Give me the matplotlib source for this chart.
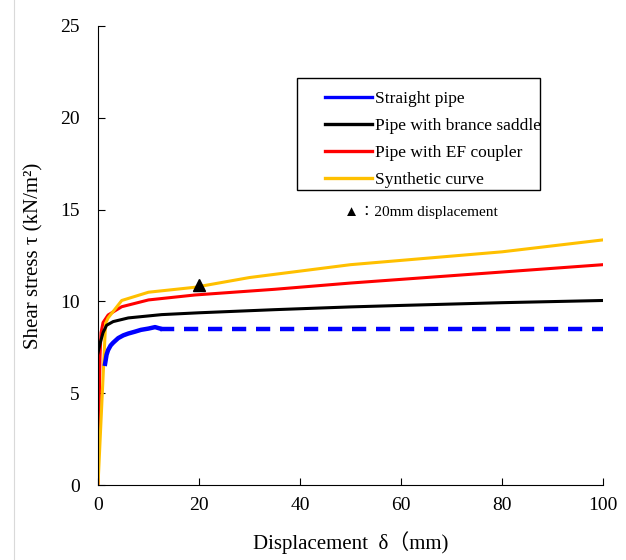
import matplotlib

matplotlib.use("Agg")
import matplotlib.pyplot as plt
from matplotlib.lines import Line2D
from matplotlib.patches import Rectangle

plt.rcParams["font.family"] = ["Liberation Serif", "DejaVu Serif", "Noto Sans CJK JP"]
plt.rcParams["font.size"] = 14

# Straight pipe: measured part, then constant (dashed) part
straight_x = [1.4, 1.7, 2.0, 2.5, 3.0, 4.0, 5.0, 6.0, 7.3, 8.5, 10.0, 11.3, 12.3]
straight_y = [6.6, 7.1, 7.35, 7.6, 7.75, 8.0, 8.15, 8.25, 8.35, 8.45, 8.52, 8.6, 8.52]
straight_dash_x = [12.3, 100.0]
straight_dash_y = [8.5, 8.5]

saddle_x = [0.0, 0.5, 1.0, 1.7, 3.0, 6.0, 12.6, 20.0, 35.0, 50.0, 60.0, 80.0, 100.0]
saddle_y = [7.2, 7.8, 8.3, 8.7, 8.9, 9.1, 9.28, 9.38, 9.55, 9.7, 9.78, 9.93, 10.05]

coupler_x = [0.0, 0.2, 0.4, 0.6, 1.0, 2.0, 4.7, 10.0, 19.2, 35.0, 50.0, 60.0, 80.0, 100.0]
coupler_y = [0.0, 4.0, 7.0, 8.3, 8.85, 9.26, 9.71, 10.08, 10.35, 10.66, 11.0, 11.2, 11.6, 12.0]

synth_x = [0.0, 1.5, 2.0, 3.0, 4.7, 10.0, 19.2, 30.0, 50.0, 80.0, 100.0]
synth_y = [0.0, 8.8, 9.1, 9.45, 10.05, 10.5, 10.77, 11.3, 12.0, 12.7, 13.35]

marker_x = [20.0]
marker_y = [10.9]

labels = ["Straight pipe", "Pipe with brance saddle", "Pipe with EF coupler", "Synthetic curve"]
colors = ["#0000ff", "#000000", "#ff0000", "#ffc000"]

fig = plt.figure(figsize=(6.26, 5.6), dpi=100)
ax = fig.add_axes([98 / 626, 75 / 560, 505 / 626, 459 / 560])

ax.plot(coupler_x, coupler_y, color=colors[2], lw=2.2)
ax.plot(synth_x, synth_y, color=colors[3], lw=2.2)
ax.plot(saddle_x, saddle_y, color=colors[1], lw=2.2)
ax.plot(straight_x, straight_y, color=colors[0], lw=3.2)
ax.plot(straight_dash_x, straight_dash_y, color=colors[0], lw=3.2, ls=(0, (3.2, 2.2)))
ax.plot(marker_x, marker_y, ls="None", marker="^", color="black", ms=8)

ax.set_xlim(0, 100)
ax.set_ylim(0, 25)
ax.set_xticks(range(0, 101, 20))
ax.set_yticks(range(0, 26, 5))
ax.spines["top"].set_visible(False)
ax.spines["right"].set_visible(False)
ax.tick_params(direction="in", length=5, width=0.8, labelsize=14)
ax.tick_params(axis="y", pad=13)
ax.tick_params(axis="x", pad=9)
ax.set_xlabel("Displacement  δ（mm)", fontsize=15, labelpad=12)
ax.set_ylabel("Shear stress τ (kN/m²)", fontsize=15, labelpad=12)

# legend box
ax.add_patch(Rectangle((0.394, 0.643), 0.481, 0.244, transform=ax.transAxes,
                       fill=False, ec="black", lw=1.0, clip_on=False))
handles = [Line2D([], [], color=c, lw=2.4) for c in colors]
ax.legend(handles, labels, loc="upper left", bbox_to_anchor=(0.449, 0.858),
          frameon=False, borderpad=0, borderaxespad=0, handlelength=2.7,
          handletextpad=0.2, labelspacing=0.62, fontsize=12.5)

ax.text(0.488, 0.593, "▲：20mm displacement", transform=ax.transAxes,
        fontsize=11, va="center", ha="left")

# faint page border
fig.add_artist(Line2D([14 / 626, 14 / 626], [0, 1], color="#d9d9d9", lw=0.8))

fig.savefig("out.png", dpi=100)
